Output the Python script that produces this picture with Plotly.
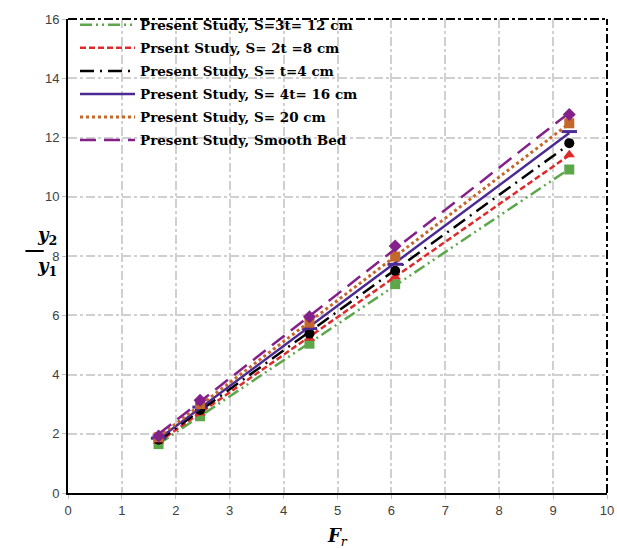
import numpy as np
import plotly.graph_objects as go

# Froude number (x) and depth ratio y2/y1 for each bed spacing
fr = [1.68, 2.45, 4.48, 6.07, 9.3]
s12 = [1.65, 2.59, 5.04, 7.05, 10.92]
s8 = [1.75, 2.70, 5.22, 7.30, 11.42]
s4 = [1.80, 2.80, 5.38, 7.50, 11.81]
s16 = [1.85, 2.90, 5.55, 7.72, 12.20]
s20 = [1.88, 3.00, 5.75, 7.98, 12.48]
smooth = [1.92, 3.13, 5.95, 8.34, 12.78]

x_ticks = list(range(0, 11))
y_ticks = list(range(0, 17, 2))

series = [
    ("Present Study, S=3t= 12 cm", s12, "#5DA64A", "12px,4px,2px,4px,2px,4px", "square", 2.5),
    ("Prsent Study, S= 2t =8 cm", s8, "#DD2A2A", "6px,3px", "triangle-up", 2.5),
    ("Present Study, S= t=4 cm", s4, "#000000", "14px,6px,2px,6px", "circle", 2.5),
    ("Present Study, S= 4t= 16 cm", s16, "#4B2A94", "solid", "line-ew-open", 2.5),
    ("Present Study, S= 20 cm", s20, "#C4672A", "dot", "square", 3),
    ("Present Study, Smooth Bed", smooth, "#84208A", "16px,8px", "diamond", 2.5),
]

fig = go.Figure()
for i, (name, ys, color, dash, sym, w) in enumerate(series):
    # linear trend line through the measured points
    k, b = np.polyfit(fr, ys, 1)
    xs = [fr[0], fr[-1]]
    fig.add_trace(go.Scatter(
        x=xs, y=[k * v + b for v in xs], mode="lines", name=name,
        legendgroup=str(i),
        line=dict(color=color, width=w, dash=dash),
    ))
    mk = dict(color=color, size=10, symbol=sym)
    if sym == "line-ew-open":
        mk = dict(color=color, size=11, symbol=sym, line=dict(color=color, width=3))
    fig.add_trace(go.Scatter(
        x=fr, y=ys, mode="markers", showlegend=False, legendgroup=str(i),
        marker=mk,
    ))

grid = dict(showgrid=True, gridcolor="#D0D0D0", gridwidth=2, griddash="dashdot",
            showline=True, linecolor="black", linewidth=2, zeroline=False,
            ticks="outside", ticklen=4, tickcolor="#BFBFBF", automargin=False,
            tickfont=dict(family="Liberation Sans", size=13, color="#404040"))

fig.update_xaxes(range=[0, 10], tickvals=x_ticks, **grid)
fig.update_yaxes(range=[0, 16], tickvals=y_ticks, **grid)

# dash-dot top and right frame
fig.add_shape(type="line", xref="x domain", yref="y domain", x0=0, x1=1, y0=1, y1=1,
              line=dict(color="black", width=2, dash="dashdot"))
fig.add_shape(type="line", xref="x domain", yref="y domain", x0=1, x1=1, y0=0, y1=1,
              line=dict(color="black", width=2, dash="dashdot"))

# axis titles
fig.add_annotation(xref="paper", yref="paper", x=0.5, y=0, yanchor="top", yshift=-30,
                   text="<b><i>F</i></b><i><sub>r</sub></i>", showarrow=False,
                   font=dict(family="DejaVu Serif", size=18, color="black"))
fig.add_annotation(xref="paper", yref="paper", x=0, xshift=-33, y=0.5105, yshift=1,
                   yanchor="bottom",
                   text="<b><i>y</i><sub>2</sub></b>", showarrow=False,
                   font=dict(family="DejaVu Serif", size=18, color="black"))
fig.add_annotation(xref="paper", yref="paper", x=0, xshift=-33, y=0.5105, yshift=-2,
                   yanchor="top",
                   text="<b><i>y</i><sub>1</sub></b>", showarrow=False,
                   font=dict(family="DejaVu Serif", size=18, color="black"))
fig.add_shape(type="line", xref="paper", yref="paper", x0=-0.079, x1=-0.045, y0=0.5105, y1=0.5105,
              line=dict(color="black", width=2))

fig.update_layout(
    width=617, height=549,
    margin=dict(l=68, r=10, t=17, b=56),
    plot_bgcolor="white", paper_bgcolor="white",
    legend=dict(x=0.013, y=1.02, xanchor="left", yanchor="top", bgcolor="rgba(0,0,0,0)",
                tracegroupgap=2.5, itemwidth=55,
                font=dict(family="DejaVu Serif", size=13.5, color="black", weight="bold")),
)

# drop the default page margin so the figure fills the window exactly
fig.write_html("out.html", config={"displayModeBar": False},
               post_script="document.body.style.margin='0';")
